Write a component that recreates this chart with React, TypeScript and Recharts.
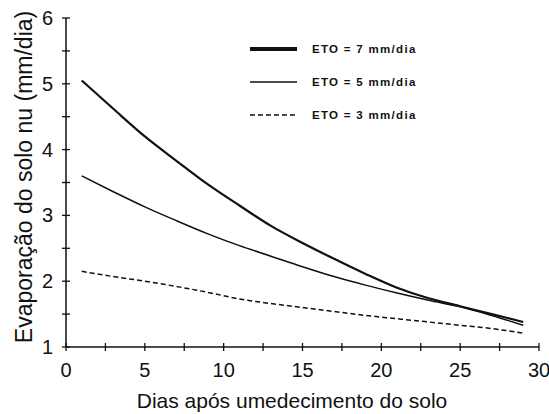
import { LineChart, Line, XAxis, YAxis, Label } from 'recharts';

// dias após umedecimento (x) e evaporação (mm/dia)
const dias = [1, 3, 5, 7, 9, 11, 13, 15, 17, 19, 21, 23, 25, 27, 29];
const eto7 = [5.05, 4.62, 4.2, 3.83, 3.47, 3.15, 2.84, 2.58, 2.34, 2.11, 1.9, 1.74, 1.62, 1.5, 1.38];
const eto5 = [3.6, 3.36, 3.13, 2.92, 2.72, 2.54, 2.38, 2.22, 2.07, 1.94, 1.82, 1.71, 1.61, 1.48, 1.33];
const eto3 = [2.15, 2.07, 2.0, 1.92, 1.83, 1.73, 1.66, 1.6, 1.54, 1.48, 1.43, 1.38, 1.33, 1.28, 1.21];

const xTicks = [0, 2.5, 5, 7.5, 10, 12.5, 15, 17.5, 20, 22.5, 25, 27.5, 30];
const yTicks = [1, 1.5, 2, 2.5, 3, 3.5, 4, 4.5, 5, 5.5, 6];

const seriesNames = ['ETO = 7 mm/dia', 'ETO = 5 mm/dia', 'ETO = 3 mm/dia'];

const FONT = '"Liberation Sans", Arial, sans-serif';
const INK = '#111';

const data = dias.map((d, i) => ({ dia: d, eto7: eto7[i], eto5: eto5[i], eto3: eto3[i] }));

function XTick({ x, y, payload }: any) {
  const major = payload.value % 5 === 0;
  return (
    <g>
      <line x1={x} y1={y - 4} x2={x} y2={y + 4} stroke={INK} strokeWidth={1.3} />
      {major && (
        <text x={x} y={y + 30} textAnchor="middle" fontSize={20} fontFamily={FONT} fill={INK}>
          {payload.value}
        </text>
      )}
    </g>
  );
}

function YTick({ x, y, payload }: any) {
  const major = Number.isInteger(payload.value);
  return (
    <g>
      <line x1={x - 4} y1={y} x2={x + 4} y2={y} stroke={INK} strokeWidth={1.3} />
      {major && (
        <text x={x - 13} y={y + 7} textAnchor="end" fontSize={20} fontFamily={FONT} fill={INK}>
          {payload.value}
        </text>
      )}
    </g>
  );
}

// legend drawn by hand: thick / thin / dashed sample + text
function LegendBox() {
  const rows = [
    { w: 4, dash: undefined },
    { w: 1.5, dash: undefined },
    { w: 1.5, dash: '5 3' },
  ];
  return (
    <svg width={200} height={90} style={{ position: 'absolute', left: 250, top: 44 }}>
      {rows.map((r, i) => (
        <g key={i}>
          <line x1={0} x2={47} y1={5 + i * 33} y2={5 + i * 33} stroke={INK} strokeWidth={r.w} strokeDasharray={r.dash} />
          <text x={62} y={9 + i * 33} fontSize={11.5} fontWeight="bold" letterSpacing={1.3} fontFamily={FONT} fill={INK}>
            {seriesNames[i]}
          </text>
        </g>
      ))}
    </svg>
  );
}

export default function App() {
  return (
    <div style={{ position: 'absolute', left: 0, top: 0, width: 549, height: 414, background: '#fff' }}>
      <LineChart width={549} height={414} data={data} margin={{ top: 18, right: 10, bottom: 37, left: 0 }}>
        <XAxis
          dataKey="dia"
          type="number"
          height={30}
          domain={[0, 30]}
          ticks={xTicks}
          interval={0}
          tickLine={false}
          tickSize={0}
          tickMargin={0}
          tick={<XTick />}
          axisLine={{ stroke: INK, strokeWidth: 1.5 }}
        >
          <Label
            content={() => (
              <text x={292} y={408} textAnchor="middle" fontSize={21} fontFamily={FONT} fill={INK}>
                Dias após umedecimento do solo
              </text>
            )}
          />
        </XAxis>
        <XAxis xAxisId="top" orientation="top" type="number" dataKey="dia" domain={[0, 30]} height={0} tick={false} tickLine={false} axisLine={{ stroke: INK, strokeWidth: 1.5 }} />
        <YAxis
          width={66}
          type="number"
          domain={[1, 6]}
          ticks={yTicks}
          interval={0}
          tickLine={false}
          tickSize={0}
          tickMargin={0}
          tick={<YTick />}
          axisLine={{ stroke: INK, strokeWidth: 1.5 }}
        >
          <Label
            content={() => (
              <text transform="translate(32,177) rotate(-90)" textAnchor="middle" fontSize={23} fontFamily={FONT} fill={INK}>
                Evaporação do solo nu  (mm/dia)
              </text>
            )}
          />
        </YAxis>
        <YAxis yAxisId="right" orientation="right" width={0} domain={[1, 6]} tick={false} tickLine={false} axisLine={{ stroke: INK, strokeWidth: 1.5 }} />
        <Line dataKey="eto7" name={seriesNames[0]} type="monotone" stroke={INK} strokeWidth={2.2} dot={false} isAnimationActive={false} />
        <Line dataKey="eto5" name={seriesNames[1]} type="monotone" stroke={INK} strokeWidth={1.5} dot={false} isAnimationActive={false} />
        <Line dataKey="eto3" name={seriesNames[2]} type="monotone" stroke={INK} strokeWidth={1.5} strokeDasharray="5 3" dot={false} isAnimationActive={false} />
      </LineChart>
      <LegendBox />
    </div>
  );
}
